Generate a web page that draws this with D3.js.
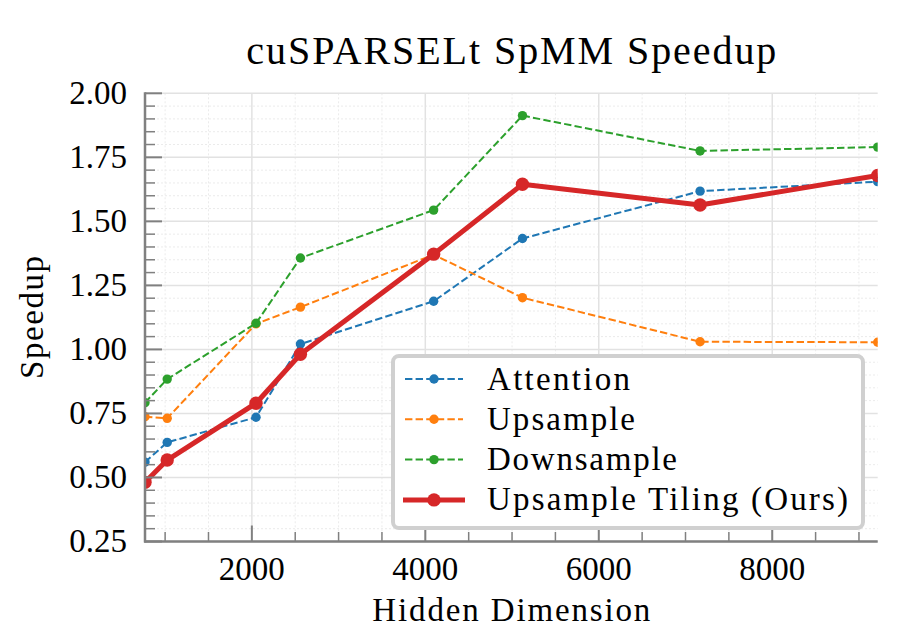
<!DOCTYPE html>
<html>
<head>
<meta charset="utf-8">
<script src="https://cdn.jsdelivr.net/npm/d3@7"></script>
<style>
    body { margin: 0; background: #fff; }
    text { font-family: "Liberation Serif", "DejaVu Serif", serif; fill: #000; }
</style>
</head>
<body>
<svg id="chart" width="908" height="636"></svg>
<script>
// Data ------------------------------------------------------------------------------------

const dims = [768, 1024, 2048, 2560, 4096, 5120, 7168, 9216];
const attention = [0.560, 0.637, 0.735, 1.021, 1.188, 1.433, 1.618, 1.655];
const upsample = [0.737, 0.731, 1.100, 1.165, 1.370, 1.202, 1.030, 1.028];
const downsample = [0.792, 0.884, 1.102, 1.357, 1.544, 1.913, 1.775, 1.790];
const upsampleTiling = [0.481, 0.568, 0.790, 0.981, 1.372, 1.645, 1.564, 1.679];

const seriesNames = ["Attention", "Upsample", "Downsample", "Upsample Tiling (Ours)"];
const xTicks = [2000, 4000, 6000, 8000];
const yTicks = [0.25, 0.50, 0.75, 1.00, 1.25, 1.50, 1.75, 2.00];

// Setup -----------------------------------------------------------------------------------

var svg = d3.select("#chart");
var plotLeft = 145, plotRight = 877.7, plotTop = 93.3, plotBottom = 541.5;
var colors = ["#1f77b4", "#ff7f0e", "#2ca02c", "#d62728"];
var spineColor = "#808080";

var x = d3.scaleLinear().domain([768, 9216]).range([plotLeft, plotRight]);
var y = d3.scaleLinear().domain([0.25, 2.0]).range([plotBottom, plotTop]);

var xMinor = d3.range(1000, 9216, 500).filter(d => d % 2000 !== 0);
var yMinor = d3.range(0.25, 2.0001, 0.05).map(d => +d.toFixed(2)).filter(d => !yTicks.includes(d));

function fitText(sel, w) {
    sel.attr("textLength", w).attr("lengthAdjust", "spacing");
}

// Grid ------------------------------------------------------------------------------------

var grid = svg.append("g");
grid.selectAll(".xm").data(xMinor).enter().append("line")
    .attr("x1", d => x(d)).attr("x2", d => x(d)).attr("y1", plotTop).attr("y2", plotBottom)
    .attr("stroke", "#ebebeb").attr("stroke-width", 1).attr("stroke-dasharray", "2,2");
grid.selectAll(".ym").data(yMinor).enter().append("line")
    .attr("x1", plotLeft).attr("x2", plotRight).attr("y1", d => y(d)).attr("y2", d => y(d))
    .attr("stroke", "#ebebeb").attr("stroke-width", 1).attr("stroke-dasharray", "2,2");
grid.selectAll(".xg").data(xTicks).enter().append("line")
    .attr("x1", d => x(d)).attr("x2", d => x(d)).attr("y1", plotTop).attr("y2", plotBottom)
    .attr("stroke", "#e2e2e2").attr("stroke-width", 1.5);
grid.selectAll(".yg").data(yTicks).enter().append("line")
    .attr("x1", plotLeft).attr("x2", plotRight).attr("y1", d => y(d)).attr("y2", d => y(d))
    .attr("stroke", "#e2e2e2").attr("stroke-width", 1.5);

// Lines -----------------------------------------------------------------------------------

svg.append("clipPath").attr("id", "plotClip").append("rect")
    .attr("x", plotLeft).attr("y", plotTop)
    .attr("width", plotRight - plotLeft).attr("height", plotBottom - plotTop);

var allSeries = [attention, upsample, downsample, upsampleTiling];
var line = d3.line().x((d, i) => x(dims[i])).y(d => y(d));
var plot = svg.append("g").attr("clip-path", "url(#plotClip)");

allSeries.forEach(function (vals, k) {
    var ours = k === 3;
    plot.append("path").datum(vals)
        .attr("d", line)
        .attr("fill", "none")
        .attr("stroke", colors[k])
        .attr("stroke-width", ours ? 5 : 2)
        .attr("stroke-dasharray", ours ? null : "7.4,3.2")
        .attr("stroke-linejoin", "round");
    plot.selectAll(".pt" + k).data(vals).enter().append("circle")
        .attr("cx", (d, i) => x(dims[i]))
        .attr("cy", d => y(d))
        .attr("r", ours ? 6.7 : 4.7)
        .attr("fill", colors[k]);
});

// Axes ------------------------------------------------------------------------------------

var ax = svg.append("g").attr("stroke", spineColor);
ax.selectAll(".ytk").data(yTicks).enter().append("line")
    .attr("x1", plotLeft).attr("x2", plotLeft + 17).attr("y1", d => y(d)).attr("y2", d => y(d))
    .attr("stroke-width", 2);
ax.selectAll(".ymk").data(yMinor).enter().append("line")
    .attr("x1", plotLeft).attr("x2", plotLeft + 10).attr("y1", d => y(d)).attr("y2", d => y(d))
    .attr("stroke-width", 1.5);
ax.selectAll(".xtk").data(xTicks).enter().append("line")
    .attr("x1", d => x(d)).attr("x2", d => x(d)).attr("y1", plotBottom).attr("y2", plotBottom - 16)
    .attr("stroke-width", 2);
ax.selectAll(".xmk").data(xMinor).enter().append("line")
    .attr("x1", d => x(d)).attr("x2", d => x(d)).attr("y1", plotBottom).attr("y2", plotBottom - 9.5)
    .attr("stroke-width", 1.5);
ax.append("line").attr("x1", plotLeft).attr("x2", plotLeft)
    .attr("y1", plotTop - 1).attr("y2", plotBottom + 1)
    .attr("stroke-width", 2.5);
ax.append("line").attr("x1", plotLeft - 1).attr("x2", plotRight)
    .attr("y1", plotBottom).attr("y2", plotBottom)
    .attr("stroke-width", 2.5);

svg.selectAll(".ylab").data(yTicks).enter().append("text")
    .attr("x", plotLeft - 18).attr("y", d => y(d))
    .attr("dy", "0.33em")
    .attr("text-anchor", "end")
    .style("font-size", "33px")
    .text(d => d.toFixed(2));

svg.selectAll(".xlab").data(xTicks).enter().append("text")
    .attr("x", d => x(d)).attr("y", 580)
    .attr("text-anchor", "middle")
    .style("font-size", "33px")
    .text(d => d);

// Titles ----------------------------------------------------------------------------------

svg.append("text").attr("x", (plotLeft + plotRight) / 2).attr("y", 64)
    .attr("text-anchor", "middle").style("font-size", "40px")
    .text("cuSPARSELt SpMM Speedup").call(fitText, 530);

svg.append("text").attr("x", (plotLeft + plotRight) / 2).attr("y", 621)
    .attr("text-anchor", "middle").style("font-size", "33px")
    .text("Hidden Dimension").call(fitText, 278);

svg.append("text")
    .attr("transform", "translate(43," + (plotTop + plotBottom) / 2 + ") rotate(-90)")
    .attr("text-anchor", "middle").style("font-size", "33px")
    .text("Speedup").call(fitText, 123);

// Legend ----------------------------------------------------------------------------------

var legend = svg.append("g");
legend.append("rect")
    .attr("x", 393).attr("y", 356).attr("width", 470).attr("height", 172)
    .attr("rx", 6).attr("ry", 6)
    .attr("fill", "#fff").attr("stroke", "#d0d0d0").attr("stroke-width", 4);

var labelWidths = [143, 148, 190, 361];
seriesNames.forEach(function (name, k) {
    var ours = k === 3;
    var ly = 379 + k * 40.3;
    legend.append("line")
        .attr("x1", ours ? 403 : 405).attr("x2", ours ? 465 : 463)
        .attr("y1", ly).attr("y2", ly)
        .attr("stroke", colors[k])
        .attr("stroke-width", ours ? 5 : 2)
        .attr("stroke-dasharray", ours ? null : "7.4,3.2");
    legend.append("circle").attr("cx", 434).attr("cy", ly)
        .attr("r", ours ? 6.7 : 4.7).attr("fill", colors[k]);
    legend.append("text").attr("x", 487).attr("y", ly + 10.5)
        .style("font-size", "33px")
        .text(name).call(fitText, labelWidths[k]);
});
</script>
</body>
</html>
